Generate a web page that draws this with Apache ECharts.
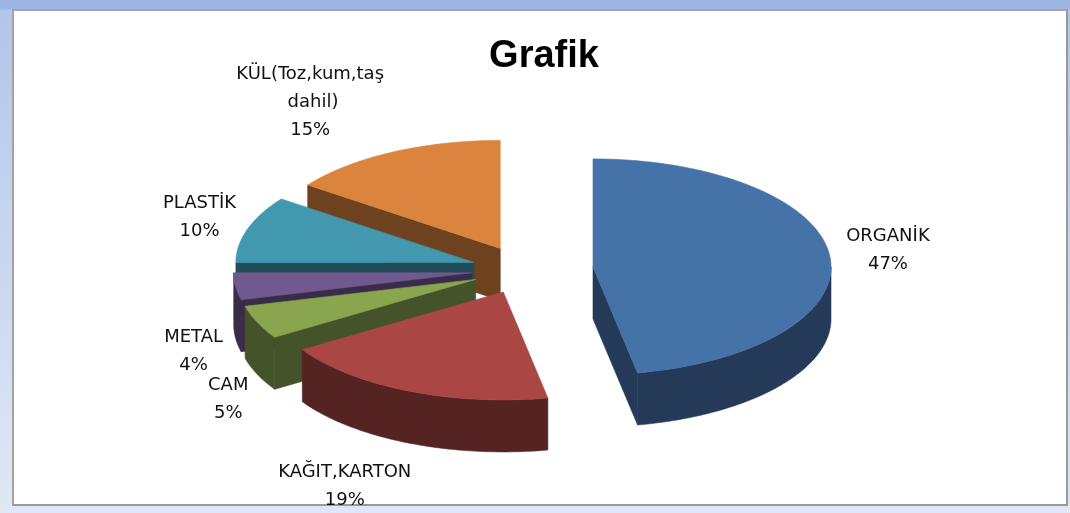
<!DOCTYPE html>
<html>
<head>
<meta charset="utf-8">
<script src="https://cdn.jsdelivr.net/npm/echarts@6/dist/echarts.min.js"></script>
<style>
html,body{margin:0;padding:0;width:1070px;height:513px;overflow:hidden;}
body{background:linear-gradient(#9cb5e5 0px,#9cb5e5 9px,#b2c5ea 10px,#e0e8f5 513px);}
#frame{position:absolute;left:12px;top:9px;width:1052px;height:493px;background:#fff;
  border-left:2px solid #a4a4a4;border-top:2px solid #a4a4a4;border-right:2px solid #9a9a9a;border-bottom:2px solid #9a9a9a;}
#chart{position:absolute;left:0;top:0;width:1070px;height:513px;}
</style>
</head>
<body>
<div id="frame"></div>
<div id="chart"></div>
<script>
// ---- data ----
const chartTitle = 'Grafik';
const categories = ['ORGANİK', 'KAĞIT,KARTON', 'CAM', 'METAL', 'PLASTİK', 'KÜL(Toz,kum,taş dahil)'];
const values = [47, 19, 5, 4, 10, 15];

// ---- styles ----
const topColors  = ['#4572A7', '#AA4643', '#89A54E', '#71588F', '#4198AF', '#DB843D'];
const sideColors = ['#243A58', '#552321', '#45532A', '#392C48', '#214D58', '#6E421F'];
const explode    = [69, 53, 53, 53, 53, 53];
const labelShift = [[58, -6], [-64, 95], [-29, 77], [-42, 65], [-48, -12], [-82, -50]];

const total = values.reduce((s, v) => s + v, 0);
const starts = [];
let acc = 0;
values.forEach(v => { starts.push(acc / total * 360); acc += v; });
const rad = d => d * Math.PI / 180;
const mids = values.map((v, i) => starts[i] + v / total * 180);
const order = values.map((v, i) => i).sort((p, q) => Math.cos(rad(mids[q])) - Math.cos(rad(mids[p])));

function renderItem(params, api) {
  const i = params.dataIndex;
  const v = api.value(1);
  const W = api.getWidth(), H = api.getHeight();
  const cx = W * 0.49, cy = H * 0.526, R = 238, r = 108, h = 52;
  const a = starts[i], b = a + v / total * 360;
  const m = (a + b) / 2;
  const ax = cx + explode[i] * Math.sin(rad(m));
  const ay = cy - explode[i] * (r / R) * Math.cos(rad(m));
  const P = (deg, dy) => [ax + R * Math.sin(rad(deg)), ay - r * Math.cos(rad(deg)) + (dy || 0)];
  const arc = (s, e, dy) => {
    const pts = [];
    const n = Math.max(2, Math.ceil(e - s));
    for (let k = 0; k <= n; k++) pts.push(P(s + (e - s) * k / n, dy));
    return pts;
  };
  const rank = order.indexOf(i);
  const children = [];
  const sideStyle = { fill: sideColors[i], stroke: sideColors[i], lineWidth: 0.6 };
  if (Math.sin(rad(a)) < -1e-6) {
    children.push({ type: 'polygon', z2: rank * 10, style: sideStyle,
      shape: { points: [[ax, ay], P(a), P(a, h), [ax, ay + h]] } });
  }
  if (Math.sin(rad(b)) > 1e-6) {
    children.push({ type: 'polygon', z2: rank * 10, style: sideStyle,
      shape: { points: [[ax, ay], P(b), P(b, h), [ax, ay + h]] } });
  }
  const ws = Math.max(a, 90), we = Math.min(b, 270);
  if (we > ws) {
    children.push({ type: 'polygon', z2: rank * 10 + 1, style: sideStyle,
      shape: { points: arc(ws, we, 0).concat(arc(ws, we, h).reverse()) } });
  }
  children.push({ type: 'polygon', z2: rank * 10 + 2,
    style: { fill: topColors[i], stroke: topColors[i], lineWidth: 0.6 },
    shape: { points: [[ax, ay]].concat(arc(a, b, 0)) } });
  const anc = P(m);
  children.push({ type: 'text', z2: 1000,
    x: anc[0] + labelShift[i][0], y: anc[1] + labelShift[i][1],
    style: {
      text: categories[i] + '\n' + Math.round(v / total * 100) + '%',
      fill: '#111', fontSize: 18, fontFamily: 'DejaVu Sans',
      align: 'center', verticalAlign: 'middle', lineHeight: 28,
      width: 170, overflow: 'break'
    } });
  return { type: 'group', children };
}

const chart = echarts.init(document.getElementById('chart'), null, { renderer: 'canvas' });
chart.setOption({
  backgroundColor: 'transparent',
  animation: false,
  graphic: [{
    type: 'text', x: 544, y: 57,
    style: { text: chartTitle, fill: '#000', fontSize: 38, fontWeight: 'bold',
      fontFamily: 'Liberation Sans', align: 'center', verticalAlign: 'middle' }
  }],
  series: [{
    type: 'custom',
    coordinateSystem: 'none',
    renderItem: renderItem,
    data: values.map((v, i) => [i, v])
  }]
});
</script>
</body>
</html>
